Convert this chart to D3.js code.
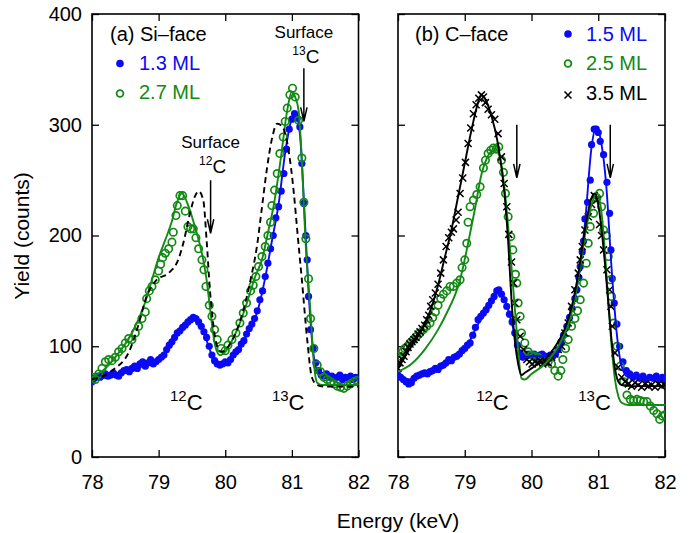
<!DOCTYPE html>
<html>
<head>
<meta charset="utf-8">
<script src="https://cdn.jsdelivr.net/npm/d3@7"></script>
<style>
  body { margin: 0; background: #fff; }
  svg { display: block; font-family: "Liberation Sans", Arial, Helvetica, sans-serif; }
</style>
</head>
<body>
<svg id="chart" width="690" height="533"></svg>
<script>
// ---------- axis values ----------
const energyTicks = [78, 79, 80, 81, 82];
const yieldTicks = [0, 100, 200, 300, 400];

// ---------- (a) Si-face : measured spectra [energy keV, counts] ----------
const siFace13 = [
  [78.00,68],[78.04,71],[78.08,73],[78.12,72],[78.16,74],[78.20,75],[78.24,73],[78.28,74],[78.32,76],[78.36,74],
  [78.40,73],[78.44,76],[78.48,78],[78.52,79],[78.56,77],[78.60,80],[78.64,82],[78.68,80],[78.72,84],[78.76,86],
  [78.80,82],[78.84,85],[78.88,88],[78.92,84],[78.96,86],[79.00,88],[79.04,90],[79.08,92],[79.12,97],[79.16,101],
  [79.20,104],[79.24,108],[79.28,112],[79.32,114],[79.36,117],[79.40,119],[79.44,122],[79.48,124],[79.52,126],[79.56,125],
  [79.60,122],[79.64,118],[79.68,113],[79.72,108],[79.76,100],[79.80,92],[79.84,87],[79.88,84],[79.92,83],[79.96,84],
  [80.00,86],[80.04,85],[80.08,88],[80.12,92],[80.16,95],[80.20,97],[80.24,102],[80.28,105],[80.32,111],[80.36,116],
  [80.40,120],[80.44,125],[80.48,132],[80.52,142],[80.56,150],[80.60,163],[80.64,175],[80.68,188],[80.72,200],[80.76,216],
  [80.80,226],[80.84,240],[80.88,256],[80.92,278],[80.96,296],[81.00,305],[81.04,310],[81.08,306],[81.12,298],[81.15,265],
  [81.18,229],[81.21,200],[81.23,178],[81.25,145],[81.28,115],[81.32,98],[81.36,85],[81.40,78],[81.44,74],[81.48,73],
  [81.52,75],[81.56,72],[81.60,73],[81.64,71],[81.68,72],[81.72,74],[81.76,70],[81.80,72],[81.84,71],[81.88,73],
  [81.92,70],[81.96,72],[82.00,71]
];
const siFace27 = [
  [78.00,72],[78.05,70],[78.10,75],[78.15,80],[78.20,86],[78.25,88],[78.30,87],[78.35,90],[78.40,95],[78.45,98],
  [78.50,103],[78.55,107],[78.60,106],[78.65,112],[78.70,118],[78.75,125],[78.80,131],[78.82,143],[78.86,150],[78.90,154],
  [78.95,160],[79.00,168],[79.03,174],[79.06,180],[79.10,184],[79.15,188],[79.20,194],[79.22,203],[79.26,218],[79.28,227],
  [79.32,236],[79.36,236],[79.40,222],[79.44,208],[79.48,206],[79.52,206],[79.56,198],[79.60,188],[79.65,178],[79.68,169],
  [79.71,154],[79.76,137],[79.80,127],[79.84,115],[79.88,106],[79.94,98],[80.00,96],[80.04,101],[80.10,106],[80.16,112],
  [80.22,121],[80.27,130],[80.32,139],[80.38,150],[80.42,155],[80.46,163],[80.50,172],[80.55,181],[80.60,190],[80.64,200],
  [80.68,212],[80.70,227],[80.74,241],[80.78,256],[80.82,274],[80.87,289],[80.90,303],[80.93,315],[80.97,327],[81.01,333],
  [81.05,325],[81.10,304],[81.15,270],[81.18,230],[81.21,197],[81.25,161],[81.28,125],[81.33,98],[81.38,83],[81.43,77],
  [81.48,72],[81.53,70],[81.58,68],[81.63,66],[81.68,64],[81.73,63],[81.78,62],[81.83,64],[81.88,66],[81.93,68],[81.98,69]
];
// fitted / simulated curves
const siFace13Fit = [
  [78.0,70],[78.4,74],[78.8,83],[79.0,88],[79.2,103],[79.4,119],[79.55,126],[79.65,118],[79.75,100],[79.85,86],
  [79.95,84],[80.1,90],[80.3,108],[80.5,135],[80.6,162],[80.7,195],[80.8,228],[80.9,275],[81.0,306],[81.05,310],
  [81.12,292],[81.18,232],[81.25,150],[81.32,95],[81.4,75],[81.5,72],[82.0,71]
];
const siFace27Fit = [
  [78.0,72],[78.2,80],[78.4,94],[78.6,112],[78.8,140],[78.9,160],[79.0,180],[79.1,196],[79.2,213],[79.27,229],
  [79.35,238],[79.45,226],[79.53,211],[79.6,196],[79.67,178],[79.72,160],[79.78,130],[79.85,100],[79.92,92],[80.0,95],
  [80.1,105],[80.2,118],[80.33,140],[80.45,163],[80.55,178],[80.65,205],[80.73,228],[80.83,268],[80.93,313],[81.0,330],
  [81.05,325],[81.1,313],[81.15,268],[81.2,200],[81.28,130],[81.33,85],[81.38,67],[81.45,65],[82.0,65]
];
const siFaceSurfaceFit = [
  [78.0,70],[78.3,78],[78.57,97],[78.7,120],[78.82,145],[78.97,160],[79.15,166],[79.3,179],[79.37,193],[79.47,220],
  [79.55,236],[79.6,240],[79.67,232],[79.72,196],[79.77,151],[79.83,115],[79.9,97],[79.95,95],[80.08,103],[80.23,124],
  [80.38,160],[80.48,192],[80.55,225],[80.62,258],[80.7,287],[80.78,301],[80.86,298],[80.95,277],[81.03,238],[81.08,205],
  [81.15,160],[81.23,106],[81.3,72],[81.38,65],[81.5,63.5],[82.0,63.5]
];

// ---------- (b) C-face : measured spectra ----------
const cFace15 = [
  [78.00,74],[78.04,72],[78.08,70],[78.12,68],[78.16,66],[78.20,67],[78.24,71],[78.28,73],[78.32,74],[78.36,75],
  [78.40,76],[78.44,75],[78.48,77],[78.52,78],[78.56,80],[78.60,79],[78.64,82],[78.68,83],[78.72,85],[78.76,88],
  [78.80,87],[78.84,90],[78.88,91],[78.92,93],[78.96,96],[79.00,98],[79.04,101],[79.08,103],[79.12,110],[79.16,117],
  [79.20,124],[79.24,127],[79.28,130],[79.32,133],[79.36,137],[79.40,141],[79.44,145],[79.48,150],[79.51,151],[79.55,147],
  [79.59,142],[79.63,136],[79.67,129],[79.71,122],[79.75,112],[79.79,101],[79.83,94],[79.87,90],[79.91,91],[79.95,93],
  [80.00,92],[80.04,93],[80.08,91],[80.12,92],[80.16,93],[80.20,91],[80.24,90],[80.28,92],[80.32,91],[80.36,93],
  [80.40,97],[80.44,104],[80.48,110],[80.53,118],[80.57,126],[80.61,134],[80.65,143],[80.68,151],[80.71,162],[80.73,172],
  [80.76,185],[80.78,195],[80.80,215],[80.84,230],[80.88,250],[80.90,282],[80.94,296],[80.97,296],[81.00,293],[81.03,285],
  [81.08,273],[81.13,248],[81.17,220],[81.19,187],[81.21,161],[81.24,139],[81.28,120],[81.32,100],[81.37,86],[81.42,78],
  [81.47,75],[81.52,72],[81.57,74],[81.62,71],[81.67,73],[81.72,70],[81.77,72],[81.82,71],[81.87,73],[81.92,70],
  [81.96,72],[82.00,68]
];
const cFace25 = [
  [78.00,88],[78.03,91],[78.07,95],[78.10,98],[78.14,100],[78.18,103],[78.23,106],[78.28,109],[78.33,112],[78.38,115],
  [78.43,118],[78.48,121],[78.52,126],[78.56,131],[78.60,137],[78.64,143],[78.68,147],[78.73,150],[78.78,154],[78.83,154],
  [78.88,157],[78.93,160],[78.96,171],[79.00,178],[79.03,193],[79.05,212],[79.08,226],[79.13,232],[79.18,237],[79.23,244],
  [79.28,261],[79.31,268],[79.35,274],[79.39,277],[79.43,279],[79.47,278],[79.51,280],[79.55,268],[79.58,257],[79.61,238],
  [79.65,217],[79.69,199],[79.72,187],[79.76,165],[79.78,157],[79.80,139],[79.83,127],[79.85,112],[79.90,103],[79.95,95],
  [80.00,92],[80.05,91],[80.10,90],[80.15,88],[80.20,88],[80.25,86],[80.30,84],[80.35,78],[80.40,73],[80.44,78],
  [80.47,88],[80.51,98],[80.55,106],[80.60,118],[80.65,125],[80.69,132],[80.73,142],[80.78,157],[80.82,175],[80.85,193],
  [80.88,208],[80.93,220],[80.98,234],[81.02,238],[81.05,226],[81.08,205],[81.12,200],[81.15,181],[81.18,160],[81.20,145],
  [81.23,121],[81.28,100],[81.33,82],[81.38,68],[81.43,56],[81.48,52],[81.53,51],[81.58,52],[81.63,51],[81.68,50],
  [81.73,50],[81.78,46],[81.83,42],[81.88,39],[81.92,34],[81.96,37],[82.00,38]
];
const cFace35 = [
  [78.00,80],[78.03,85],[78.06,88],[78.09,91],[78.12,95],[78.15,99],[78.18,102],[78.21,104],[78.24,106],[78.27,108],
  [78.30,111],[78.33,113],[78.36,116],[78.40,119],[78.43,124],[78.46,128],[78.49,136],[78.52,142],[78.56,148],[78.60,156],
  [78.64,166],[78.68,178],[78.72,190],[78.76,198],[78.80,203],[78.83,206],[78.87,214],[78.90,221],[78.93,238],[78.97,252],
  [79.01,266],[79.05,283],[79.09,297],[79.13,310],[79.17,318],[79.21,324],[79.25,327],[79.28,325],[79.31,320],[79.35,314],
  [79.40,309],[79.45,305],[79.50,292],[79.55,271],[79.59,247],[79.63,226],[79.66,201],[79.70,176],[79.73,157],[79.75,139],
  [79.78,124],[79.83,109],[79.88,97],[79.93,88],[79.97,86],[80.01,84],[80.05,86],[80.09,85],[80.13,87],[80.17,84],
  [80.21,86],[80.25,85],[80.30,90],[80.35,93],[80.40,97],[80.45,100],[80.50,112],[80.55,121],[80.60,136],[80.65,151],
  [80.70,166],[80.73,178],[80.76,190],[80.80,205],[80.85,217],[80.90,228],[80.94,236],[80.98,232],[81.02,210],[81.05,200],
  [81.08,187],[81.13,169],[81.17,151],[81.19,136],[81.21,118],[81.25,94],[81.30,81],[81.35,72],[81.40,68],[81.45,66],
  [81.50,64],[81.55,67],[81.60,65],[81.65,63],[81.70,66],[81.75,64],[81.80,65],[81.85,63],[81.90,66],[81.95,64],[82.00,65]
];
const cFace15Fit = [
  [78.0,72],[78.2,70],[78.4,75],[78.6,80],[78.8,87],[79.0,97],[79.2,120],[79.4,140],[79.5,150],[79.6,142],
  [79.7,122],[79.8,100],[79.88,90],[80.0,91],[80.2,91],[80.35,93],[80.5,112],[80.6,132],[80.7,160],[80.8,210],
  [80.9,280],[80.97,298],[81.05,282],[81.12,245],[81.2,170],[81.28,110],[81.35,82],[81.45,72],[82.0,70]
];
const cFace25Fit = [
  [78.0,77],[78.2,84],[78.4,97],[78.6,115],[78.73,130],[78.93,160],[79.05,193],[79.15,223],[79.25,255],[79.35,272],
  [79.45,278],[79.52,272],[79.6,240],[79.7,172],[79.78,112],[79.85,71],[79.9,70],[80.0,75],[80.2,84],[80.4,100],
  [80.6,130],[80.7,160],[80.8,200],[80.9,228],[80.98,238],[81.05,220],[81.1,185],[81.15,140],[81.2,100],[81.25,70],
  [81.3,55],[81.35,49],[81.45,47],[82.0,47]
];
const cFace35Fit = [
  [78.0,80],[78.2,100],[78.4,120],[78.5,135],[78.6,155],[78.7,180],[78.8,205],[78.9,235],[79.0,265],[79.1,295],
  [79.2,320],[79.25,327],[79.3,324],[79.4,308],[79.5,282],[79.6,235],[79.65,195],[79.7,142],[79.75,105],[79.8,84],
  [79.85,74],[79.9,76],[80.0,80],[80.1,84],[80.2,88],[80.3,95],[80.4,104],[80.5,116],[80.6,135],[80.7,165],
  [80.8,205],[80.9,234],[80.95,238],[81.0,228],[81.05,205],[81.1,175],[81.15,140],[81.2,105],[81.25,80],[81.3,68],
  [81.35,65],[81.5,64],[82.0,64]
];

// arrow positions (energy of surface peaks) and peak labels
const surfaceEnergies = [79.78, 81.18];
const peakLabelEnergies = [79.4, 80.93];

// ---------- drawing ----------
const BLUE = "#0a0af5";
const GREEN = "#138a13";
const BLACK = "#000";

const svg = d3.select("#chart");
const y = d3.scaleLinear().domain([0, 400]).range([457, 14]);

const panels = [
  { id: "a", x: d3.scaleLinear().domain([78, 82]).range([92, 358.5]) },
  { id: "b", x: d3.scaleLinear().domain([78, 82]).range([398, 665]) }
];

function frame(p, showYLabels) {
  const g = svg.append("g");
  const [x0, x1] = p.x.range();
  g.append("g").attr("transform", `translate(0,${y(0)})`)
    .call(d3.axisBottom(p.x).tickValues(energyTicks).tickFormat(d3.format("d"))
      .tickSizeInner(-7).tickSizeOuter(0).tickPadding(18));
  g.append("g").attr("transform", `translate(0,${y(400)})`)
    .call(d3.axisTop(p.x).tickValues(energyTicks).tickSizeInner(-7).tickSizeOuter(0).tickFormat(""));
  const left = d3.axisLeft(y).tickValues(yieldTicks).tickSizeInner(-7).tickSizeOuter(0).tickPadding(10);
  if (!showYLabels) left.tickFormat("");
  g.append("g").attr("transform", `translate(${x0},0)`).call(left);
  g.append("g").attr("transform", `translate(${x1},0)`)
    .call(d3.axisRight(y).tickValues(yieldTicks).tickSizeInner(-7).tickSizeOuter(0).tickFormat(""));
  g.selectAll(".domain").remove();
  g.selectAll(".tick line").attr("stroke", "#000").attr("stroke-width", 1.3);
  g.selectAll(".tick text").attr("font-size", 20).attr("font-family", "Liberation Sans, Arial, sans-serif").attr("fill", "#000");
  svg.append("rect").attr("x", x0).attr("y", y(400)).attr("width", x1 - x0).attr("height", y(0) - y(400))
    .attr("fill", "none").attr("stroke", "#000").attr("stroke-width", 1.6);
}

function clipFor(p) {
  const [x0, x1] = p.x.range();
  const id = "clip-" + p.id;
  svg.append("clipPath").attr("id", id).append("rect")
    .attr("x", x0).attr("y", y(400)).attr("width", x1 - x0).attr("height", y(0) - y(400));
  return svg.append("g").attr("clip-path", `url(#${id})`);
}

function dots(g, p, data, color) {
  g.append("g").selectAll("circle").data(data).join("circle")
    .attr("cx", d => p.x(d[0])).attr("cy", d => y(d[1])).attr("r", 3.6).attr("fill", color);
}
function rings(g, p, data, color) {
  g.append("g").selectAll("circle").data(data).join("circle")
    .attr("cx", d => p.x(d[0])).attr("cy", d => y(d[1])).attr("r", 3.7)
    .attr("fill", "none").attr("stroke", color).attr("stroke-width", 1.7);
}
function crosses(g, p, data, color) {
  const s = 3.5;
  g.append("g").selectAll("path").data(data).join("path")
    .attr("d", d => {
      const cx = p.x(d[0]), cy = y(d[1]);
      return `M${cx - s},${cy - s}L${cx + s},${cy + s}M${cx - s},${cy + s}L${cx + s},${cy - s}`;
    })
    .attr("stroke", color).attr("stroke-width", 1.5).attr("fill", "none");
}
function curve(g, p, data, color, dash) {
  const line = d3.line().x(d => p.x(d[0])).y(d => y(d[1])).curve(d3.curveMonotoneX);
  g.append("path").datum(data).attr("d", line).attr("fill", "none")
    .attr("stroke", color).attr("stroke-width", 1.9)
    .attr("stroke-dasharray", dash ? "6,4" : null);
}
function arrow(p, energy, yTop, yBottom) {
  const x = p.x(energy), t = y(yTop), b = y(yBottom);
  svg.append("path").attr("d", `M${x},${t}L${x},${b}M${x - 3.2},${b - 14}L${x},${b}L${x + 3.2},${b - 14}`)
    .attr("stroke", "#000").attr("stroke-width", 1.5).attr("fill", "none");
}
function isotope(xc, baseline, mass, cSize, supSize) {
  const t = svg.append("text").attr("x", xc).attr("y", baseline).attr("text-anchor", "middle").attr("fill", "#000");
  t.append("tspan").attr("font-size", supSize).attr("dy", -cSize * 0.42).text(mass);
  t.append("tspan").attr("font-size", cSize).attr("dy", cSize * 0.42).text("C");
}
function label(x, yb, text, size, color, anchor) {
  svg.append("text").attr("x", x).attr("y", yb).attr("font-size", size)
    .attr("fill", color || "#000").attr("text-anchor", anchor || "start").text(text);
}

// ----- panel (a) -----
const pa = panels[0];
frame(pa, true);
const ga = clipFor(pa);
dots(ga, pa, siFace13, BLUE);
curve(ga, pa, siFace13Fit, BLUE, false);
rings(ga, pa, siFace27, GREEN);
curve(ga, pa, siFace27Fit, GREEN, false);
curve(ga, pa, siFaceSurfaceFit, BLACK, true);

label(110, 41, "(a) Si\u2013face", 20);
svg.append("circle").attr("cx", 120).attr("cy", 63.5).attr("r", 3.8).attr("fill", BLUE);
label(139, 70, "1.3 ML", 20, BLUE);
svg.append("circle").attr("cx", 120).attr("cy", 93.5).attr("r", 3.4).attr("fill", "none").attr("stroke", GREEN).attr("stroke-width", 1.8);
label(139, 99, "2.7 ML", 20, GREEN);

label(pa.x(surfaceEnergies[0]), 148, "Surface", 17, "#000", "middle");
isotope(pa.x(surfaceEnergies[0]) + 2, 173, "12", 19, 12);
arrow(pa, surfaceEnergies[0], 250, 202);
label(pa.x(surfaceEnergies[1]), 38, "Surface", 17, "#000", "middle");
isotope(pa.x(surfaceEnergies[1]) + 2, 63, "13", 19, 12);
arrow(pa, surfaceEnergies[1], 351, 303);

isotope(pa.x(peakLabelEnergies[0]) + 1, 410, "12", 22, 15);
isotope(pa.x(peakLabelEnergies[1]) + 1, 410, "13", 22, 15);

// ----- panel (b) -----
const pb = panels[1];
frame(pb, false);
const gb = clipFor(pb);
dots(gb, pb, cFace15, BLUE);
rings(gb, pb, cFace25, GREEN);
crosses(gb, pb, cFace35, BLACK);
curve(gb, pb, cFace15Fit, BLUE, false);
curve(gb, pb, cFace25Fit, GREEN, false);
curve(gb, pb, cFace35Fit, BLACK, false);

label(415, 41, "(b) C\u2013face", 20);
svg.append("circle").attr("cx", 568).attr("cy", 34).attr("r", 3.8).attr("fill", BLUE);
label(586, 41, "1.5 ML", 20, BLUE);
svg.append("circle").attr("cx", 568).attr("cy", 63.5).attr("r", 3.4).attr("fill", "none").attr("stroke", GREEN).attr("stroke-width", 1.8);
label(586, 70, "2.5 ML", 20, GREEN);
svg.append("path").attr("d", "M564.5,91.5L571.5,98.5M564.5,98.5L571.5,91.5").attr("stroke", BLACK).attr("stroke-width", 1.6);
label(586, 100, "3.5 ML", 20, BLACK);

arrow(pb, surfaceEnergies[0], 300, 252);
arrow(pb, surfaceEnergies[1], 300, 252);

isotope(pb.x(peakLabelEnergies[0]) + 1, 410, "12", 22, 15);
isotope(pb.x(peakLabelEnergies[1]) + 1, 410, "13", 22, 15);

// ----- shared axis titles -----
label(398, 528, "Energy (keV)", 21, "#000", "middle");
svg.append("text").attr("transform", "translate(29,236) rotate(-90)").attr("text-anchor", "middle")
  .attr("font-size", 21).attr("fill", "#000").text("Yield (counts)");
</script>
</body>
</html>
